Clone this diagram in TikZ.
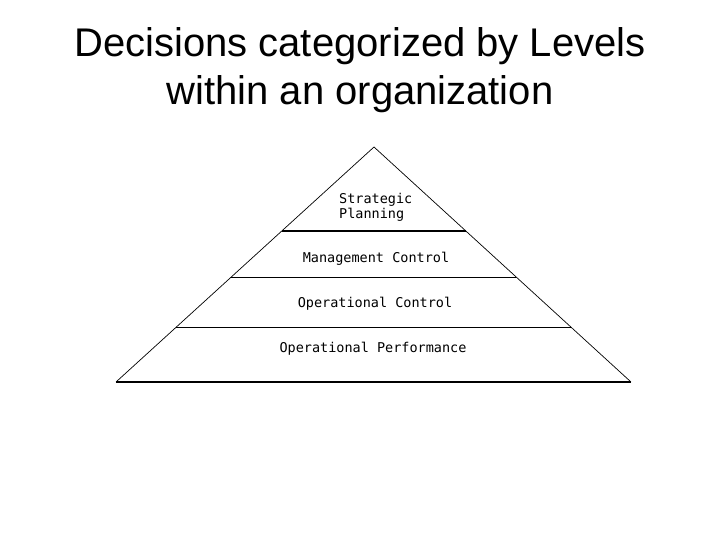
\documentclass[tikz,border=0pt]{standalone}
\usepackage{fontspec}
\setmainfont{Liberation Sans}
\newfontfamily\levelfont{DejaVu Sans Mono}
\usetikzlibrary{calc,positioning}

\begin{document}
\begin{tikzpicture}[x=1pt,y=-1pt]
    \tikzstyle{heading}=[font=\fontsize{40}{48}\selectfont,inner sep=0pt,anchor=base]
    \tikzstyle{level}=[font=\levelfont\fontsize{13.5}{15}\selectfont,inner sep=0pt]
    \tikzstyle{side}=[line width=0.7pt]
    \tikzstyle{bold}=[line width=1.6pt]

    \useasboundingbox (0,0) rectangle (720,540);

    % title
    \node[heading] (title1) at (360,57) {Decisions categorized by Levels};
    \node[heading] (title2) at (360,105) {within an organization};

    % pyramid corners
    \coordinate (apex) at (374,147);
    \coordinate (bl) at (116,382);
    \coordinate (br) at (631,382);

    % level borders
    \coordinate (sl) at ($(apex)!0.3574!(bl)$);
    \coordinate (sr) at ($(apex)!0.3574!(br)$);
    \coordinate (ml) at ($(apex)!0.553!(bl)$);
    \coordinate (mr) at ($(apex)!0.553!(br)$);
    \coordinate (ol) at ($(apex)!0.766!(bl)$);
    \coordinate (or) at ($(apex)!0.766!(br)$);

    \draw[side] (bl) -- (apex) -- (br);
    \draw[bold] (bl) -- (br);
    \draw[bold] (sl) -- (sr);
    \draw[side] (ml) -- (mr);
    \draw[side] (ol) -- (or);

    % level names
    \node[level,align=left,anchor=north west] (strat) at (339,193) {Strategic\\Planning};
    \node[level,anchor=base] (mgmt) at (376,262) {Management Control};
    \node[level,anchor=base] (opctl) at (375,307) {Operational Control};
    \node[level,anchor=base] (opperf) at (373,352) {Operational Performance};
\end{tikzpicture}
\end{document}
